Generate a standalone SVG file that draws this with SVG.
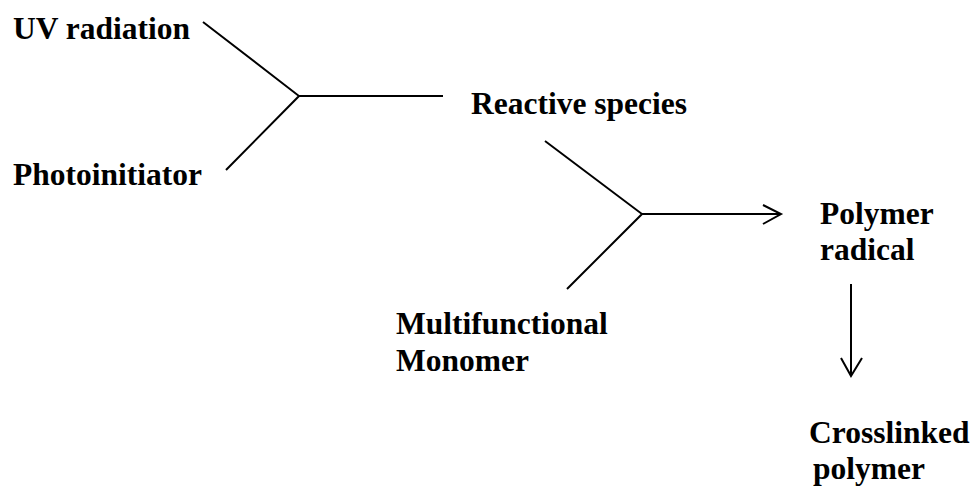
<svg xmlns="http://www.w3.org/2000/svg" width="971" height="486" viewBox="0 0 971 486">
<style>
.t{font-family:"Liberation Serif","Times New Roman",serif;font-weight:bold;font-size:31.5px;fill:#000}
.c{stroke:#000;stroke-width:2;fill:none;stroke-linecap:butt;stroke-linejoin:miter}
</style>
<rect width="971" height="486" fill="#fff"/>
<g id="connectors">
<path class="c" d="M203,22 L299,96 L226,170"/>
<path class="c" d="M299,96 L443,96"/>
<path class="c" d="M545,141 L642,214 L567,289"/>
<path class="c" d="M642,214 L781,214"/>
<path class="c" d="M763,205 L781,214 L763,224"/>
<path class="c" d="M851,284 L851,376"/>
<path class="c" d="M841,358 L851,376 L862,358"/>
</g>
<g id="uv"><text class="t" x="13" y="39">UV radiation</text></g>
<g id="photo"><text class="t" x="13" y="185">Photoinitiator</text></g>
<g id="reactive"><text class="t" x="471" y="114">Reactive species</text></g>
<g id="monomer"><text class="t" x="396" y="334">Multifunctional</text><text class="t" x="396" y="371">Monomer</text></g>
<g id="radical"><text class="t" x="820" y="224">Polymer</text><text class="t" x="820" y="260">radical</text></g>
<g id="crosslinked"><text class="t" x="809" y="443">Crosslinked</text><text class="t" x="813" y="479">polymer</text></g>
</svg>
